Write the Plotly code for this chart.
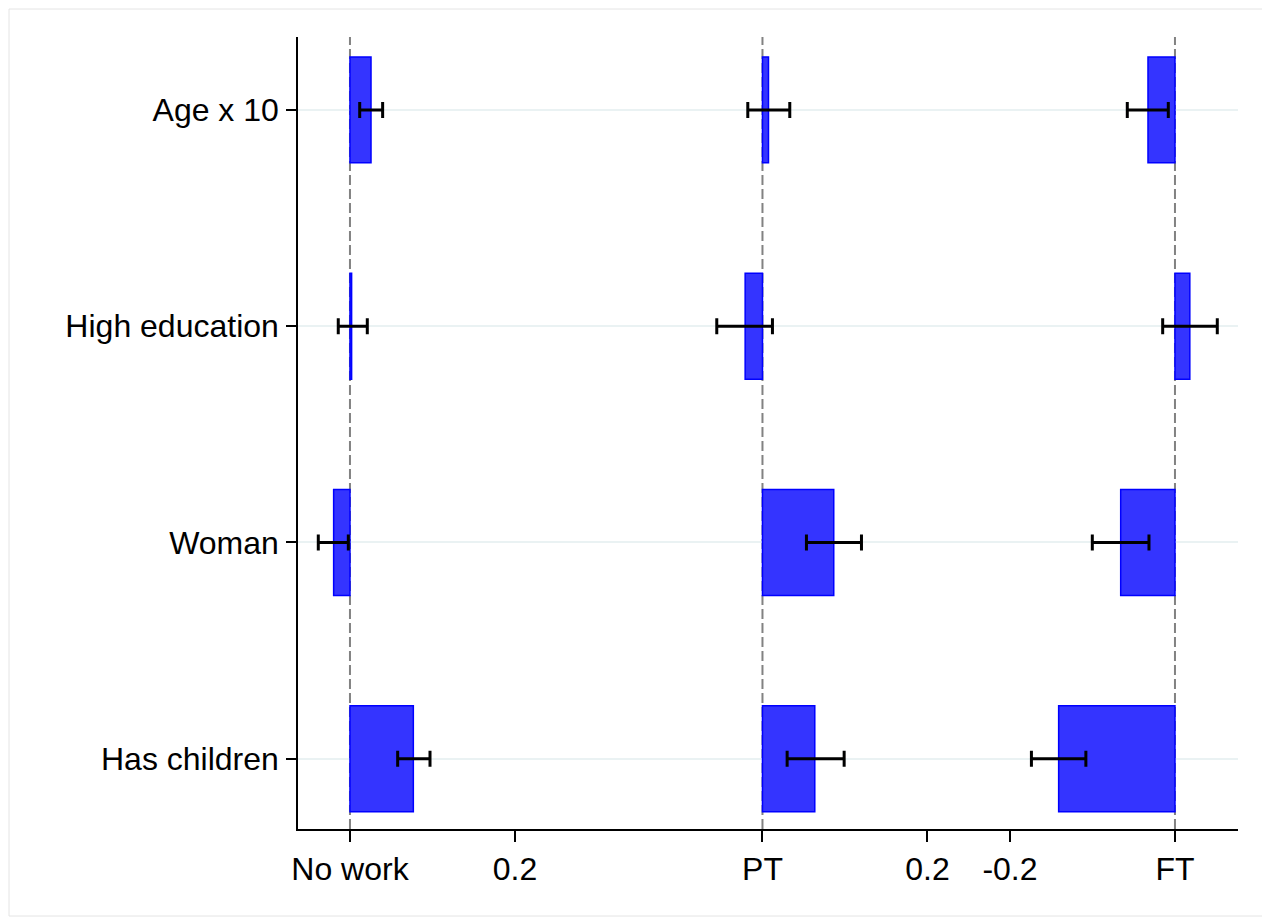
import plotly.graph_objects as go

# Categories (top to bottom)
categories = ["Age x 10", "High education", "Woman", "Has children"]
outcomes = ["No work", "PT", "FT"]
panel_offsets = [0.0, 0.5, 1.0]

# Marginal effects (bar lengths) per outcome
effects = {
    "No work": [0.0255, 0.002, -0.0198, 0.0768],
    "PT":      [0.0073, -0.021, 0.0864, 0.0634],
    "FT":      [-0.0327, 0.018, -0.0658, -0.141],
}
# Confidence interval lower / upper bounds per outcome
ci_low = {
    "No work": [0.0118, -0.0142, -0.0384, 0.0578],
    "PT":      [-0.0178, -0.0554, 0.0533, 0.0299],
    "FT":      [-0.0578, -0.0149, -0.1002, -0.174],
}
ci_high = {
    "No work": [0.0396, 0.021, -0.002, 0.097],
    "PT":      [0.0331, 0.0121, 0.120, 0.099],
    "FT":      [-0.0081, 0.0513, -0.0315, -0.108],
}

tick_vals = [0.0, 0.2, 0.5, 0.7, 0.8, 1.0]
tick_text = ["No work", "0.2", "PT", "0.2", "-0.2", "FT"]

FONT = "Liberation Sans, Arial, Helvetica, sans-serif"

fig = go.Figure()

for name, off in zip(outcomes, panel_offsets):
    fig.add_trace(go.Bar(
        y=categories,
        x=effects[name],
        base=[off] * len(categories),
        orientation="h",
        width=0.49,
        marker=dict(color="rgb(52,52,255)", line=dict(color="rgb(0,0,255)", width=1.5)),
        showlegend=False,
    ))

for name, off in zip(outcomes, panel_offsets):
    lo = ci_low[name]
    hi = ci_high[name]
    mids = [off + (a + b) / 2 for a, b in zip(lo, hi)]
    halves = [(b - a) / 2 for a, b in zip(lo, hi)]
    fig.add_trace(go.Scatter(
        y=categories,
        x=mids,
        mode="markers",
        marker=dict(size=1, color="rgba(0,0,0,0)"),
        error_x=dict(type="data", array=halves, symmetric=True,
                     color="black", thickness=3, width=8),
        showlegend=False,
        hoverinfo="skip",
    ))

shapes = []
for off in panel_offsets:
    shapes.append(dict(type="line", xref="x", yref="paper", x0=off, x1=off, y0=0, y1=1,
                       line=dict(color="rgb(130,130,130)", width=2, dash="10px,4px"),
                       layer="below"))

OFF = 8
L, R, T, B = 298 - OFF, 32 + OFF, 37 - OFF, 93 + OFF
W, H = 1270, 922
pw, ph = W - L - R, H - T - B
# outer frame of the graph region
fx0, fx1, fy0, fy1 = 1, 1256, 1, 908
shapes.append(dict(type="rect", xref="paper", yref="paper",
                   x0=(fx0 - L) / pw, x1=(fx1 - L) / pw,
                   y0=1 - (fy1 - T) / ph, y1=1 - (fy0 - T) / ph,
                   line=dict(color="rgb(228,228,228)", width=1), layer="below"))

fig.update_layout(
    width=W, height=H,
    margin=dict(l=L, r=R, t=T, b=B),
    plot_bgcolor="white", paper_bgcolor="white",
    font=dict(family=FONT, size=32, color="black"),
    barmode="overlay",
    shapes=shapes,
    xaxis=dict(
        range=[-0.063, 1.0764],
        tickvals=tick_vals, ticktext=tick_text,
        showgrid=False, zeroline=False,
        showline=True, linecolor="black", linewidth=1.5,
        ticks="outside", ticklen=11, tickwidth=1.5, tickcolor="black",
        tickfont=dict(family=FONT, size=32),
    ),
    yaxis=dict(
        categoryorder="array", categoryarray=categories,
        range=[3.325, -0.337],
        showgrid=True, gridcolor="rgb(234,242,243)", gridwidth=2,
        zeroline=False,
        showline=True, linecolor="black", linewidth=1.5,
        ticks="outside", ticklen=10, tickwidth=1.5, tickcolor="black",
        ticklabelstandoff=1,
        tickfont=dict(family=FONT, size=32),
    ),
)

fig.write_html("out.html")
